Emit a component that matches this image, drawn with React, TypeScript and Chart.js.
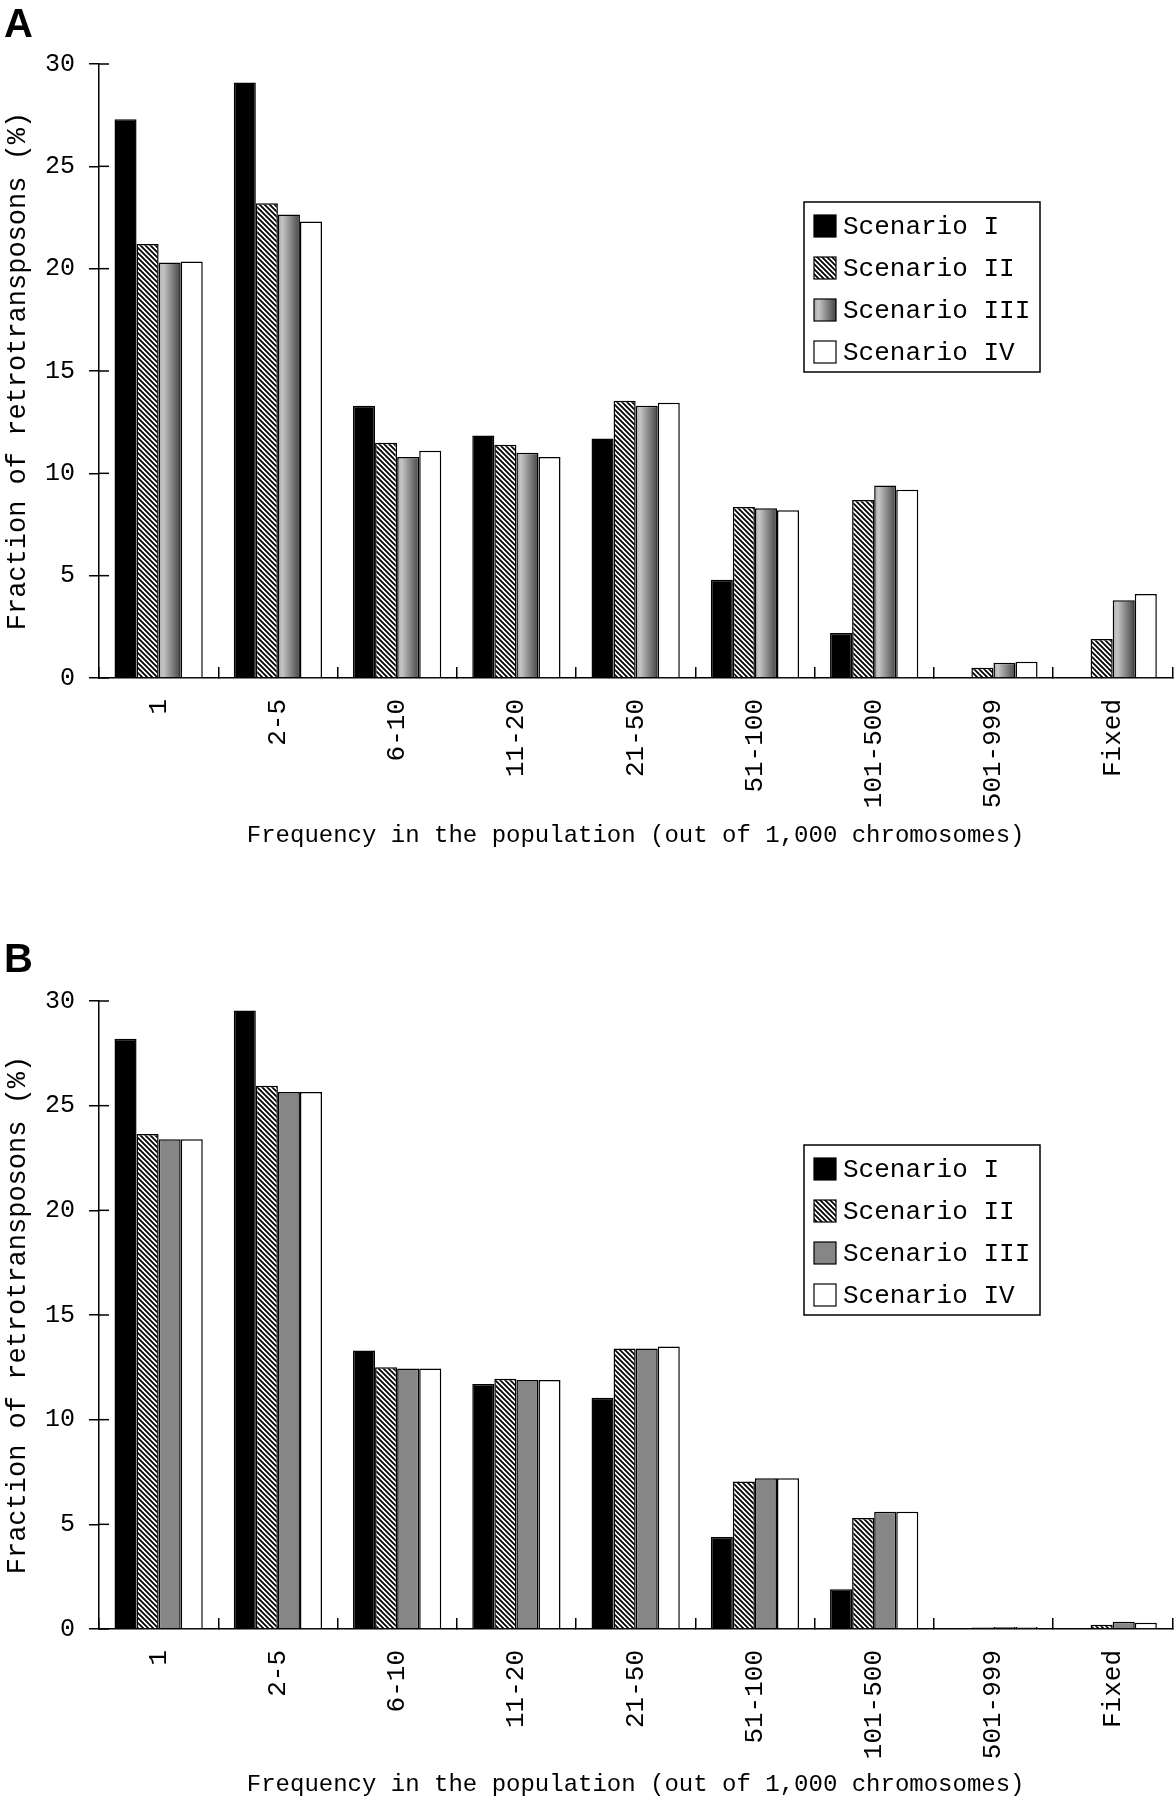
import React, { useEffect, useRef } from 'react';
import { Chart, registerables } from 'chart.js';

Chart.register(...registerables);

const categories = ['1', '2-5', '6-10', '11-20', '21-50', '51-100', '101-500', '501-999', 'Fixed'];
const scenarioLabels = ['Scenario I', 'Scenario II', 'Scenario III', 'Scenario IV'];
const yMax = 30;
const yStep = 5;

// panel A
const aScenarioI = [27.3, 29.1, 13.3, 11.85, 11.7, 4.8, 2.2, 0, 0];
const aScenarioII = [21.2, 23.2, 11.5, 11.4, 13.55, 8.35, 8.7, 0.5, 1.9];
const aScenarioIII = [20.3, 22.65, 10.8, 11.0, 13.3, 8.3, 9.4, 0.75, 3.8];
const aScenarioIV = [20.35, 22.3, 11.1, 10.8, 13.45, 8.2, 9.2, 0.8, 4.1];

// panel B
const bScenarioI = [28.2, 29.55, 13.3, 11.7, 11.05, 4.4, 1.9, 0, 0];
const bScenarioII = [23.65, 25.95, 12.5, 11.95, 13.4, 7.05, 5.3, 0.07, 0.2];
const bScenarioIII = [23.4, 25.65, 12.45, 11.9, 13.4, 7.2, 5.6, 0.1, 0.35];
const bScenarioIV = [23.4, 25.65, 12.45, 11.9, 13.5, 7.2, 5.6, 0.1, 0.3];

const FONT = '"Liberation Mono", "DejaVu Sans Mono", monospace';
const shadeStops: [number, string][] = [
  [0, '#a6a6a6'],
  [0.2, '#c6c6c6'],
  [1, '#444444'],
];

function makeHatch(ctx: CanvasRenderingContext2D) {
  const size = 5;
  const tile = document.createElement('canvas');
  tile.width = size;
  tile.height = size;
  const g = tile.getContext('2d')!;
  g.fillStyle = '#ffffff';
  g.fillRect(0, 0, size, size);
  g.strokeStyle = '#000000';
  g.lineWidth = 1.8;
  g.beginPath();
  g.moveTo(-1, -1);
  g.lineTo(size + 1, size + 1);
  g.moveTo(-1, size - 1);
  g.lineTo(1, size + 1);
  g.moveTo(size - 1, -1);
  g.lineTo(size + 1, 1);
  g.stroke();
  return ctx.createPattern(tile, 'repeat') || '#888888';
}

function shadeFor(ctx: CanvasRenderingContext2D, x0: number, x1: number) {
  const g = ctx.createLinearGradient(x0, 0, x1, 0);
  shadeStops.forEach(([o, c]) => g.addColorStop(o, c));
  return g;
}

// horizontal grey ramp on the third series (panel A only)
const shadePlugin = {
  id: 'shade',
  beforeDatasetDraw(chart: any, args: any, opts: any) {
    if (!opts.enabled || args.index !== 2) return;
    args.meta.data.forEach((el: any) => {
      const { x, width } = el.getProps(['x', 'width'], true);
      el.options = { ...el.options, backgroundColor: shadeFor(chart.ctx, x - width / 2, x + width / 2) };
    });
  },
};

// y ticks cross the axis line
const innerTicks = {
  id: 'innerTicks',
  afterDatasetsDraw(chart: any) {
    const { ctx, chartArea } = chart;
    const y = chart.scales.y;
    ctx.save();
    ctx.strokeStyle = '#000';
    ctx.lineWidth = 1.5;
    y.ticks.forEach((t: any) => {
      const py = y.getPixelForValue(t.value);
      ctx.beginPath();
      ctx.moveTo(chartArea.left, py);
      ctx.lineTo(chartArea.left + 10, py);
      ctx.stroke();
    });
    ctx.restore();
  },
};

const boxLegend = {
  id: 'boxLegend',
  afterDraw(chart: any, _args: any, opts: any) {
    const { ctx } = chart;
    const { left, top, width, height, shaded } = opts;
    ctx.save();
    ctx.fillStyle = '#fff';
    ctx.fillRect(left, top, width, height);
    ctx.strokeStyle = '#000';
    ctx.lineWidth = 1.5;
    ctx.strokeRect(left, top, width, height);
    chart.data.datasets.forEach((ds: any, i: number) => {
      const cy = top + 24 + i * 42;
      const sx = left + 10;
      const sy = cy - 11;
      ctx.fillStyle = i === 2 && shaded ? shadeFor(ctx, sx, sx + 22) : ds.backgroundColor;
      ctx.fillRect(sx, sy, 22, 22);
      ctx.lineWidth = 1.2;
      ctx.strokeRect(sx, sy, 22, 22);
      ctx.fillStyle = '#000';
      ctx.font = `26px ${FONT}`;
      ctx.textBaseline = 'middle';
      ctx.textAlign = 'left';
      ctx.fillText(ds.label, left + 39, cy + 1);
    });
    ctx.restore();
  },
};

interface PanelProps {
  series: number[][];
  shaded: boolean;
  plotTop: number;
  plotBottom: number;
  titlePad: number;
  legendTop: number;
}

const W = 1176;
const H = 900;

const Panel: React.FC<PanelProps> = ({ series, shaded, plotTop, plotBottom, titlePad, legendTop }) => {
  const canvasRef = useRef<HTMLCanvasElement>(null);

  useEffect(() => {
    const canvas = canvasRef.current;
    if (!canvas) return;
    const ctx = canvas.getContext('2d');
    if (!ctx) return;
    const fills = ['#000000', makeHatch(ctx), shaded ? '#999999' : '#868686', '#ffffff'];

    const chart = new Chart(ctx, {
      type: 'bar',
      data: {
        labels: categories,
        datasets: series.map((d, i) => ({
          label: scenarioLabels[i],
          data: d,
          backgroundColor: fills[i],
          borderColor: '#000000',
          borderWidth: 1.5,
          categoryPercentage: 0.74,
          barPercentage: 1,
        })),
      },
      options: {
        responsive: false,
        animation: false,
        layout: { padding: { left: 0, right: 2, top: plotTop, bottom: 0 } },
        plugins: {
          legend: { display: false },
          tooltip: { enabled: false },
          shade: { enabled: shaded },
          boxLegend: { left: 804, top: legendTop, width: 236, height: 170, shaded },
        } as any,
        scales: {
          x: {
            afterFit: (s: any) => {
              s.height = H - plotBottom;
            },
            border: { color: '#000', width: 1.5 },
            grid: {
              offset: true,
              drawOnChartArea: false,
              drawTicks: true,
              tickLength: -11,
              color: '#000',
              lineWidth: 1.5,
            },
            ticks: {
              minRotation: 90,
              maxRotation: 90,
              autoSkip: false,
              padding: 32,
              color: '#000',
              font: { family: FONT, size: 26 },
            },
            title: {
              display: true,
              text: 'Frequency in the population (out of 1,000 chromosomes)',
              color: '#000',
              font: { family: FONT, size: 24 },
              padding: { top: 0, bottom: titlePad },
            },
          },
          y: {
            min: 0,
            max: yMax,
            afterFit: (s: any) => {
              s.width = 99;
            },
            border: { color: '#000', width: 1.5 },
            grid: {
              drawOnChartArea: false,
              drawTicks: true,
              tickLength: 10,
              color: '#000',
              lineWidth: 1.5,
            },
            ticks: {
              stepSize: yStep,
              padding: 14,
              color: '#000',
              font: { family: FONT, size: 25 },
            },
            title: {
              display: true,
              text: 'Fraction of retrotransposons (%)',
              color: '#000',
              font: { family: FONT, size: 27 },
              padding: { top: 2, bottom: 0 },
            },
          },
        },
      },
      plugins: [shadePlugin, innerTicks, boxLegend],
    });

    return () => {
      chart.destroy();
    };
  }, [series, shaded, plotTop, plotBottom, titlePad, legendTop]);

  return <canvas ref={canvasRef} width={W} height={H} style={{ display: 'block' }} />;
};

const panelLabel: React.CSSProperties = {
  position: 'absolute',
  left: 4,
  fontFamily: '"Liberation Sans", Arial, sans-serif',
  fontWeight: 700,
  fontSize: 40,
  lineHeight: '40px',
  color: '#000',
};

const seriesA = [aScenarioI, aScenarioII, aScenarioIII, aScenarioIV];
const seriesB = [bScenarioI, bScenarioII, bScenarioIII, bScenarioIV];

export default function App() {
  return (
    <div style={{ position: 'absolute', left: 0, top: 0, width: W, height: 2 * H, background: '#fff', overflow: 'hidden' }}>
      <div style={{ position: 'absolute', left: 0, top: 0 }}>
        <Panel series={seriesA} shaded plotTop={64} plotBottom={678} titlePad={50} legendTop={202} />
      </div>
      <div style={{ position: 'absolute', left: 0, top: H }}>
        <Panel series={seriesB} shaded={false} plotTop={101} plotBottom={729} titlePad={1} legendTop={245} />
      </div>
      <div style={{ ...panelLabel, top: 3 }}>A</div>
      <div style={{ ...panelLabel, top: 938 }}>B</div>
    </div>
  );
}
